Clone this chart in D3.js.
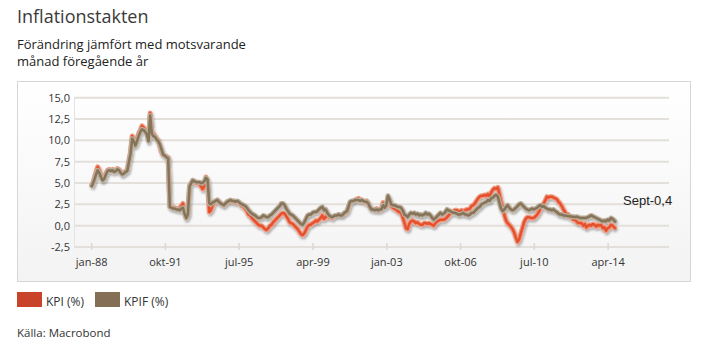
<!DOCTYPE html>
<html>
<head>
<meta charset="utf-8">
<script src="https://cdn.jsdelivr.net/npm/d3@7"></script>
<style>
  body { margin: 0; background: #fff; }
  text { font-family: "Open Sans", sans-serif; }
</style>
</head>
<body>
<div id="my_dataviz"></div>
<script>
// monthly inflation, jan-88 .. sep-14, one row per year
const kpi = [
  4.6, 5.0, 5.6, 6.3, 6.9, 6.5, 5.9, 5.4, 5.6, 6.1, 6.5, 6.6,
  6.5, 6.6, 6.4, 6.5, 6.7, 6.6, 6.3, 6.1, 6.2, 6.4, 6.5, 7.6,
  8.6, 10.5, 10.2, 9.6, 10.2, 10.8, 11.2, 11.7, 11.5, 11.2, 11.0, 10.2,
  13.2, 11.0, 10.8, 10.5, 10.2, 10.0, 9.3, 8.6, 8.3, 8.2, 8.1, 8.0,
  2.3, 2.2, 2.1, 2.1, 2.0, 2.0, 2.1, 2.3, 2.6, 1.5, 0.9, 1.3,
  4.7, 5.0, 5.3, 5.2, 5.0, 5.0, 5.0, 4.6, 4.3, 4.6, 5.7, 5.2,
  1.6, 1.8, 2.3, 2.7, 2.9, 3.0, 2.8, 2.6, 2.5, 2.4, 2.6, 2.8,
  2.9, 2.9, 2.8, 2.9, 2.7, 2.8, 2.7, 2.5, 2.3, 2.2, 2.0, 1.7,
  1.3, 1.2, 0.9, 0.7, 0.5, 0.3, 0.1, 0.0, 0.0, -0.2, -0.4, -0.5,
  -0.3, 0.0, 0.1, 0.4, 0.6, 0.8, 1.0, 1.2, 1.4, 1.5, 1.4, 1.1,
  0.8, 0.4, 0.3, 0.2, 0.0, -0.2, -0.4, -0.7, -1.0, -1.1, -0.9, -0.5,
  -0.1, 0.1, 0.1, 0.3, 0.4, 0.6, 0.5, 0.7, 0.9, 1.2, 0.8, 1.0,
  1.2, 1.0, 1.0, 0.9, 1.1, 1.2, 1.2, 1.3, 1.2, 1.2, 1.4, 1.5,
  1.6, 2.2, 2.7, 2.8, 2.9, 3.0, 3.1, 3.2, 3.0, 3.0, 2.9, 2.7,
  2.9, 2.6, 2.2, 1.9, 1.9, 1.9, 2.0, 1.8, 1.8, 2.0, 2.7, 2.2,
  2.3, 3.3, 3.0, 2.3, 2.1, 2.0, 1.9, 1.7, 1.6, 1.5, 1.0, 0.4,
  -0.3, -0.4, 0.2, 0.5, 0.6, 0.5, 0.3, 0.4, 0.2, 0.1, 0.1, 0.3,
  0.3, 0.2, 0.3, 0.2, 0.1, 0.0, 0.3, 0.5, 0.6, 0.7, 0.7, 0.7,
  0.8, 1.0, 1.2, 1.4, 1.6, 1.7, 1.8, 1.8, 1.7, 1.7, 1.8, 1.6,
  1.8, 1.9, 1.9, 2.0, 2.3, 2.4, 2.6, 2.9, 3.2, 3.4, 3.5, 3.5,
  3.6, 3.5, 3.7, 3.4, 3.9, 4.2, 4.4, 4.3, 4.5, 3.7, 2.8, 2.2,
  1.2, 0.6, 0.3, 0.1, -0.1, -0.4, -0.8, -1.4, -1.9, -1.6, -0.9, -0.3,
  0.4, 0.8, 1.0, 1.0, 0.9, 0.9, 0.9, 1.1, 1.3, 1.6, 2.0, 2.3,
  2.6, 3.0, 3.4, 3.3, 3.4, 3.4, 3.3, 3.2, 3.1, 2.8, 2.6, 2.3,
  1.9, 1.6, 1.3, 1.3, 1.0, 1.0, 0.7, 0.7, 0.5, 0.3, 0.3, 0.3,
  0.0, 0.2, -0.2, 0.0, 0.1, 0.0, 0.2, 0.1, -0.1, 0.1, 0.0, 0.1,
  -0.3, -0.2, -0.6, -0.3, -0.2, 0.1, 0.0, -0.2, -0.4,
];

const kpif = [
  4.5, 4.9, 5.4, 6.0, 6.5, 6.2, 5.7, 5.3, 5.5, 6.0, 6.4, 6.5,
  6.4, 6.5, 6.3, 6.4, 6.6, 6.5, 6.2, 6.0, 6.1, 6.3, 6.4, 7.4,
  8.4, 10.2, 9.9, 9.4, 9.9, 10.5, 11.0, 11.3, 11.2, 11.0, 10.7, 9.9,
  12.9, 10.8, 10.5, 10.4, 10.1, 9.9, 9.5, 8.9, 8.3, 8.2, 8.0, 7.9,
  2.2, 2.1, 2.0, 2.0, 1.9, 1.9, 1.8, 2.0, 2.1, 1.4, 0.9, 1.3,
  4.6, 5.0, 5.3, 5.2, 5.1, 5.1, 5.1, 5.0, 5.0, 5.2, 5.6, 5.4,
  2.6, 2.5, 2.7, 2.8, 2.9, 3.0, 2.8, 2.6, 2.5, 2.4, 2.6, 2.8,
  2.9, 3.0, 2.9, 2.9, 2.8, 2.9, 2.8, 2.6, 2.5, 2.4, 2.3, 2.1,
  1.8, 1.6, 1.4, 1.3, 1.2, 1.0, 0.9, 0.9, 1.0, 1.2, 1.1, 1.0,
  1.0, 1.2, 1.3, 1.5, 1.7, 1.9, 2.1, 2.3, 2.6, 2.6, 2.4, 2.0,
  1.7, 1.4, 1.3, 1.2, 1.0, 0.8, 0.6, 0.4, 0.2, 0.1, 0.4, 0.8,
  1.2, 1.3, 1.3, 1.5, 1.6, 1.6, 1.7, 1.9, 2.1, 2.2, 1.8, 1.9,
  1.5, 1.2, 1.1, 1.0, 1.1, 1.2, 1.2, 1.3, 1.2, 1.2, 1.4, 1.6,
  1.7, 2.3, 2.8, 2.9, 2.9, 3.0, 3.0, 3.0, 2.9, 3.0, 2.9, 2.8,
  2.8, 2.6, 2.2, 1.9, 1.9, 1.8, 1.9, 1.8, 1.9, 1.9, 2.4, 2.1,
  2.4, 3.5, 3.1, 2.5, 2.4, 2.4, 2.3, 2.2, 2.2, 2.1, 1.8, 1.3,
  1.2, 1.0, 1.3, 1.5, 1.4, 1.5, 1.3, 1.4, 1.2, 1.3, 1.2, 1.3,
  1.5, 1.3, 1.4, 1.2, 0.9, 0.7, 0.9, 1.1, 1.3, 1.5, 1.3, 1.4,
  1.6, 1.9, 1.8, 1.7, 1.6, 1.5, 1.5, 1.4, 1.3, 1.3, 1.4, 1.5,
  1.3, 1.3, 1.2, 1.3, 1.5, 1.5, 1.7, 1.9, 2.1, 2.2, 2.5, 2.6,
  2.7, 2.8, 3.0, 2.9, 3.2, 3.3, 3.5, 3.6, 3.4, 2.7, 2.0, 1.7,
  1.9, 2.2, 2.4, 2.1, 1.9, 1.8, 1.9, 2.1, 2.3, 2.5, 2.6, 2.4,
  2.2, 2.0, 1.9, 1.8, 1.9, 2.0, 1.9, 2.0, 2.1, 2.3, 2.4, 2.2,
  2.3, 2.1, 2.0, 1.9, 1.9, 1.8, 1.9, 1.7, 1.6, 1.4, 1.3, 1.3,
  1.2, 1.2, 1.15, 1.1, 1.1, 1.05, 1.05, 1.0, 1.05, 1.0, 0.9, 0.9,
  0.9, 0.9, 0.9, 1.0, 1.1, 1.2, 1.1, 1.0, 0.9, 0.8, 0.7, 0.6,
  0.5, 0.6, 0.5, 0.7, 0.6, 0.9, 0.8, 0.6, 0.4,
];

const startMonth = new Date(1988, 0, 1);
const yTicks = [-2.5, 0, 2.5, 5, 7.5, 10, 12.5, 15];
const xTickMonths = [0, 45, 90, 135, 180, 225, 270, 315]; // months after jan-88
const seriesNames = ['KPI (%)', 'KPIF (%)'];

const sv = d3.timeFormatLocale({
  dateTime: '%A %e %B %Y %X',
  date: '%Y-%m-%d',
  time: '%H:%M:%S',
  periods: ['fm', 'em'],
  days: ['söndag', 'måndag', 'tisdag', 'onsdag', 'torsdag', 'fredag', 'lördag'],
  shortDays: ['sön', 'mån', 'tis', 'ons', 'tor', 'fre', 'lör'],
  months: ['januari', 'februari', 'mars', 'april', 'maj', 'juni', 'juli', 'augusti', 'september', 'oktober', 'november', 'december'],
  shortMonths: ['jan', 'feb', 'mar', 'apr', 'maj', 'jun', 'jul', 'aug', 'sep', 'okt', 'nov', 'dec'],
});
const fmtMonth = sv.format('%b-%y');
const fmtNum = d3.formatLocale({
  decimal: ',',
  thousands: ' ',
  grouping: [3],
  currency: ['', ' kr'],
  minus: '-',
}).format('.1f');

const width = 709;
const height = 348;

const svg = d3
  .select('#my_dataviz')
  .append('svg')
  .attr('width', width)
  .attr('height', height);

const defs = svg.append('defs');
const grad = defs
  .append('linearGradient')
  .attr('id', 'bg')
  .attr('x1', 0).attr('y1', 0).attr('x2', 0).attr('y2', 1);
grad.append('stop').attr('offset', '0%').attr('stop-color', '#ffffff');
grad.append('stop').attr('offset', '100%').attr('stop-color', '#f3f3f3');

const shadow = defs.append('filter').attr('id', 'shadow')
  .attr('x', '-5%').attr('y', '-10%').attr('width', '110%').attr('height', '130%');
shadow
  .append('feDropShadow')
  .attr('dx', 1)
  .attr('dy', 2)
  .attr('stdDeviation', 1.3)
  .attr('flood-color', '#000')
  .attr('flood-opacity', 0.3);

// title + subtitle
svg.append('text')
  .attr('x', 17).attr('y', 23)
  .style('font-size', '18px')
  .style('fill', '#3a3a3a')
  .text('Inflationstakten');

svg.append('text')
  .attr('x', 17).attr('y', 48.5)
  .style('font-size', '13px')
  .style('fill', '#222')
  .text('Förändring jämfört med motsvarande');
svg.append('text')
  .attr('x', 17).attr('y', 65.5)
  .style('font-size', '13px')
  .style('fill', '#222')
  .text('månad föregående år');

// chart frame
svg.append('rect')
  .attr('x', 17.5).attr('y', 81.5)
  .attr('width', 673).attr('height', 200)
  .attr('fill', 'url(#bg)')
  .attr('stroke', '#d6d6d6');

// scales
const monthDate = (i) => d3.timeMonth.offset(startMonth, i);
const x = d3
  .scaleTime()
  .domain([new Date(1987, 1, 17), new Date(2017, 4, 14)])
  .range([74, 669]);
const y = d3.scaleLinear().domain([-2.5, 15]).range([247, 97.7]);

// gridlines
svg.append('g')
  .selectAll('line')
  .data(yTicks)
  .enter()
  .append('line')
  .attr('x1', 74).attr('x2', 669)
  .attr('y1', (d) => y(d)).attr('y2', (d) => y(d))
  .attr('stroke', '#e3e0db')
  .attr('stroke-width', 2);

svg.append('line')
  .attr('x1', 74.5).attr('x2', 74.5)
  .attr('y1', y(15)).attr('y2', y(-2.5))
  .attr('stroke', '#e6e3de');

// y axis labels
svg.append('g')
  .selectAll('text')
  .data(yTicks)
  .enter()
  .append('text')
  .attr('x', 70)
  .attr('y', (d) => y(d) + 4)
  .attr('text-anchor', 'end')
  .style('font-size', '11px')
  .style('fill', '#333')
  .text((d) => fmtNum(d));

// x axis ticks + labels
const xAxis = svg.append('g')
  .attr('transform', `translate(0,${y(-2.5)})`)
  .call(
    d3.axisBottom(x)
      .tickValues(xTickMonths.map(monthDate))
      .tickFormat(fmtMonth)
      .tickSize(0)
      .tickPadding(11)
  );
xAxis.select('.domain').remove();
xAxis.selectAll('text')
  .style('font-size', '11px')
  .style('fill', '#333')
  .style('font-family', '"Open Sans", sans-serif');
xAxis.selectAll('.tick')
  .append('line')
  .attr('y1', -4).attr('y2', 3)
  .attr('stroke', '#dcd9d4')
  .attr('stroke-width', 1.5);

// lines
const line = d3
  .line()
  .x((d, i) => x(monthDate(i)))
  .y((d) => y(d));

const series = [
  { values: kpi, halo: '#f19a82', main: '#e3512e' },
  { values: kpif, halo: '#bcae9a', main: '#85735a' },
];

const lines = svg.append('g').attr('filter', 'url(#shadow)');
series.forEach((s) => {
  lines.append('path')
    .attr('d', line(s.values))
    .attr('fill', 'none')
    .attr('stroke', s.halo)
    .attr('stroke-width', 5)
    .attr('stroke-linejoin', 'round');
  lines.append('path')
    .attr('d', line(s.values))
    .attr('fill', 'none')
    .attr('stroke', s.main)
    .attr('stroke-width', 2.5)
    .attr('stroke-linejoin', 'round');
});

// last value annotation
svg.append('text')
  .attr('x', 623).attr('y', 205)
  .style('font-family', '"Liberation Sans", Arial, sans-serif')
  .style('font-size', '13px')
  .style('fill', '#222')
  .text('Sept' + fmtNum(kpi[kpi.length - 1]));

// legend
const legendColors = ['#c9432a', '#846e55'];
const legend = svg.append('g');
[17, 95].forEach((lx, i) => {
  legend.append('rect')
    .attr('x', lx).attr('y', 292)
    .attr('width', 25).attr('height', 15)
    .attr('fill', legendColors[i]);
  legend.append('text')
    .attr('x', lx + 29).attr('y', 306)
    .style('font-size', '12px')
    .style('fill', '#333')
    .text(seriesNames[i]);
});

svg.append('text')
  .attr('x', 17).attr('y', 337)
  .style('font-size', '11.5px')
  .style('fill', '#333')
  .text('Källa: Macrobond');
</script>
</body>
</html>
